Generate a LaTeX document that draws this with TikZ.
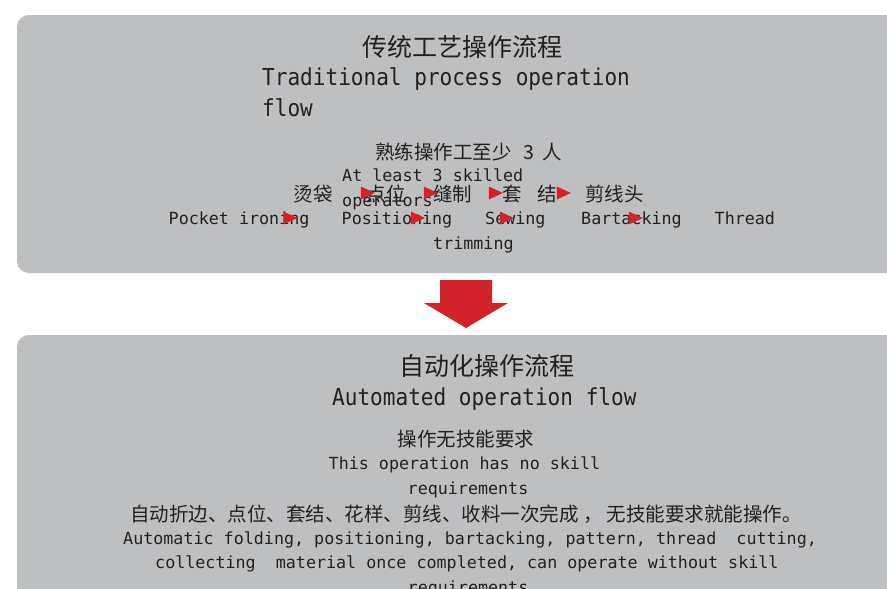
\documentclass[tikz,border=0pt]{standalone}
\usepackage{fontspec}
\setmonofont{DejaVu Sans Mono}
\newfontfamily\cjk{Noto Sans CJK SC}
\newfontfamily\titlemono[FakeStretch=0.9]{DejaVu Sans Mono}
\usetikzlibrary{shapes.geometric}

\definecolor{panelgray}{HTML}{BEBFC1}
\definecolor{arrowred}{HTML}{D2232A}
\definecolor{inkdark}{HTML}{231F20}

\tikzset{
  cntitle/.style={font=\cjk\fontsize{25}{30}\selectfont, text height=22, text depth=4, yshift=-1.5},
  entitle/.style={font=\titlemono\fontsize{23.4}{28}\selectfont, text height=17, text depth=5.5, yshift=-2.5},
  cntext/.style={font=\cjk\fontsize{19.5}{23}\selectfont, text height=17, text depth=3.5, yshift=-1.5},
  entext/.style={font=\ttfamily\fontsize{16.7}{20}\selectfont, text height=12.5, text depth=4, yshift=-2.5},
  tri/.style={isosceles triangle, isosceles triangle stretches, fill=arrowred,
    draw=none, inner sep=0, minimum width=13, minimum height=14},
}

\begin{document}
\begin{tikzpicture}[x=1pt,y=-1pt]

        \useasboundingbox (0,0) rectangle (887,589);
        \clip (0,0) rectangle (887,589);
        \fill[white] (0,0) rectangle (887,589);

        \fill[panelgray, rounded corners=12] (17,15) rectangle (910,273);
        \fill[panelgray, rounded corners=12] (17,335) rectangle (910,620);

        \fill[arrowred] (440,280) -- (492,280) -- (492,303) -- (508,303)
          -- (466,328) -- (424,303) -- (440,303) -- cycle;

        \begin{scope}[every node/.style={inner sep=0, text=inkdark, anchor=west}]
          \node[cntitle] (trad)    at (362,46)  {传统工艺操作流程};
          \node[entitle] (tradEn)  at (262,77)  {Traditional process operation};
          \node[entitle] (tradEn2) at (262,108) {flow};

          \node[cntext] (staff)    at (375,151) {熟练操作工至少\hspace{12pt}3\hspace{8pt}人};
          \node[entext] (staffEn)  at (342,175) {At least 3 skilled};
          \node[entext] (staffEn2) at (342,200) {operators};

          \node[cntext] (iron)   at (293.5,193) {烫袋};
          \node[cntext] (pos)    at (366.5,193) {点位};
          \node[cntext] (sew)    at (433,193)   {缝制};
          \node[cntext] (bar)    at (502,193)   {套};
          \node[cntext] (bar2)   at (537,193)   {结};
          \node[cntext] (trim)   at (585,193)   {剪线头};

          \node[entext] (ironEn) at (168.5,218) {Pocket ironing};
          \node[entext] (posEn)  at (341.5,218) {Positioning};
          \node[entext] (sewEn)  at (485,218)   {Sewing};
          \node[entext] (barEn)  at (581,218)   {Bartacking};
          \node[entext] (trimEn) at (714.5,218) {Thread};
          \node[entext] (trimEn2) at (433,243)  {trimming};
        \end{scope}

        \begin{scope}[every node/.style={tri}]
          \node (a1) at (365,193) {};
          \node (a2) at (428,193) {};
          \node (a3) at (493,193) {};
          \node (a4) at (561,193) {};
          \node (b1) at (287.5,218) {};
          \node (b2) at (415,218) {};
          \node (b3) at (504,218) {};
          \node (b4) at (633,218) {};
        \end{scope}

        \begin{scope}[every node/.style={inner sep=0, text=inkdark, anchor=west}]
          \node[cntitle] (auto)    at (399,365) {自动化操作流程};
          \node[entitle] (autoEn)  at (332,397) {Automated operation flow};
          \node[cntext]  (noskill) at (397.5,438) {操作无技能要求};
          \node[entext]  (noskillEn)  at (328.5,462.5) {This operation has no skill};
          \node[entext]  (noskillEn2) at (407.5,488) {requirements};
          \node[cntext]  (steps)   at (130,513) {自动折边、点位、套结、花样、剪线、收料一次完成 ， 无技能要求就能操作。};
          \node[entext]  (stepsEn)  at (123,538) {Automatic folding, positioning, bartacking, pattern, thread\ \ cutting,};
          \node[entext]  (stepsEn2) at (155,562) {collecting\ \ material once completed, can operate without skill};
          \node[entext]  (stepsEn3) at (407.5,587) {requirements};
        \end{scope}

      \end{tikzpicture}
\end{document}
